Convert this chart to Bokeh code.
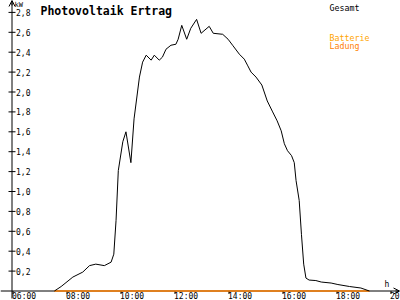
from bokeh.plotting import figure
from bokeh.models import (LinearAxis, FixedTicker, CustomJSTickFormatter, Label,
                          Arrow, OpenHead, Range1d, ColumnDataSource)
from bokeh.core.properties import value
from bokeh.embed import file_html
from bokeh.resources import INLINE

# ---- data ----
times = ["07:32", "07:47", "08:13", "08:35", "08:50", "09:04", "09:23", "09:38",
         "09:44", "09:49", "09:54", "10:04", "10:11", "10:22", "10:29", "10:41",
         "10:48", "10:56", "11:07", "11:14", "11:25", "11:32", "11:40", "11:51",
         "12:02", "12:07", "12:15", "12:26", "12:35", "12:48", "12:58", "13:16",
         "13:25", "13:46", "13:58", "14:08", "14:23", "14:34", "14:41", "14:49",
         "15:00", "15:13", "15:25", "15:37", "15:47", "15:56", "16:03", "16:10",
         "16:19", "16:25", "16:29", "16:36", "16:41", "16:46", "16:51", "16:58",
         "17:13", "17:25", "17:47", "18:02", "18:28", "18:53", "19:12"]
gesamt = [0.0, 0.045, 0.14, 0.19, 0.255, 0.27, 0.255, 0.29,
          0.37, 0.71, 1.21, 1.50, 1.60, 1.29, 1.73, 2.15,
          2.30, 2.37, 2.32, 2.37, 2.32, 2.35, 2.43, 2.47,
          2.48, 2.53, 2.67, 2.53, 2.64, 2.73, 2.59, 2.66,
          2.59, 2.58, 2.53, 2.47, 2.38, 2.33, 2.27, 2.20,
          2.15, 2.07, 1.91, 1.80, 1.71, 1.61, 1.48, 1.41,
          1.36, 1.29, 1.11, 0.91, 0.57, 0.27, 0.13, 0.11,
          0.105, 0.09, 0.08, 0.065, 0.045, 0.03, 0.0]
batt_times = ["07:32", "19:12"]
batt_ladung = [0.0, 0.0]
x_ticks = [6, 8, 10, 12, 14, 16, 18, 20]
x_tick_labels = ["06:00", "08:00", "10:00", "12:00", "14:00", "16:00", "18:00", "20:00"]
y_ticks = [0.2, 0.4, 0.6, 0.8, 1.0, 1.2, 1.4, 1.6, 1.8, 2.0, 2.2, 2.4, 2.6, 2.8]


def to_h(t):
    hh, mm = t.split(":")
    return int(hh) + int(mm) / 60.0


MONO = "DejaVu Sans Mono"
PX_PER_H = 27.0
PX_PER_KW = 99.5
X0 = 6 - 12.5 / PX_PER_H           # left edge of canvas in hours
X1 = X0 + 400 / PX_PER_H
Y1 = 290.5 / PX_PER_KW             # top edge in kW
Y0 = Y1 - 300 / PX_PER_KW
YAX = X0 + 11.5 / PX_PER_H         # position of the vertical axis

p = figure(width=400, height=300, output_backend="svg", toolbar_location=None,
           x_range=Range1d(X0, X1), y_range=Range1d(Y0, Y1),
           x_axis_type=None, y_axis_type=None, min_border=0,
           min_border_left=0, min_border_right=0, min_border_top=0, min_border_bottom=0)
p.outline_line_color = None
p.background_fill_color = "white"
p.border_fill_color = "white"

# y axis: labels only (to the right of the line)
ya = LinearAxis(fixed_location=YAX, ticker=FixedTicker(ticks=y_ticks),
                formatter=CustomJSTickFormatter(code="return tick.toFixed(1).replace('.', ',');"))
ya.major_tick_in = 0
ya.major_tick_out = 3
ya.minor_tick_in = 0
ya.minor_tick_out = 0
ya.major_label_standoff = 1
ya.major_label_text_font = MONO
ya.major_label_text_font_size = "8px"
ya.major_label_text_color = "black"
ya.axis_line_color = None
ya.major_tick_line_color = None
p.add_layout(ya, "right")

# crisp axis rules and ticks
p.segment(x0=[X0], y0=[0], x1=[X1 - 2 / PX_PER_H], y1=[0], line_color="black", line_width=1)
p.segment(x0=[YAX], y0=[Y0 + 2 / PX_PER_KW], x1=[YAX], y1=[Y1], line_color="black", line_width=1)
p.segment(x0=x_ticks, y0=[0] * len(x_ticks), x1=x_ticks, y1=[-3 / PX_PER_KW] * len(x_ticks),
          line_color="black", line_width=1)
p.segment(x0=[YAX - 3.5 / PX_PER_H] * len(y_ticks), y0=y_ticks,
          x1=[YAX + 3.5 / PX_PER_H] * len(y_ticks), y1=y_ticks,
          line_color="black", line_width=1)

# x tick labels, left aligned at the tick
p.text(x=x_ticks, y=[0] * len(x_ticks), text=x_tick_labels, x_offset=-1, y_offset=1,
       text_align="left", text_baseline="top", text_font=value(MONO),
       text_font_size="8px", text_color="black")

# series
src_b = ColumnDataSource(dict(x=[to_h(t) for t in batt_times], y=batt_ladung))
src_g = ColumnDataSource(dict(x=[to_h(t) for t in times], y=gesamt))
p.line("x", "y", source=src_b, line_color="#FF8000", line_width=1.5)
p.line("x", "y", source=src_g, line_color="black", line_width=1)

# axis arrows
p.add_layout(Arrow(end=OpenHead(size=6, line_color="black", line_width=1),
                   x_start=X1 - 5 / PX_PER_H, y_start=0, x_end=X1 - 1 / PX_PER_H, y_end=0,
                   line_color="black", line_width=1))
p.add_layout(Arrow(end=OpenHead(size=6, line_color="black", line_width=1),
                   x_start=YAX, y_start=Y1 - 5 / PX_PER_KW, x_end=YAX, y_end=Y1,
                   line_color="black", line_width=1))

# texts
p.add_layout(Label(x=40, y=297, x_units="screen", y_units="screen", text="Photovoltaik Ertrag",
                   text_font=MONO, text_font_style="bold", text_font_size="11.5px",
                   text_baseline="top", text_color="black"))
p.add_layout(Label(x=14, y=300, x_units="screen", y_units="screen", text="kW",
                   text_font=MONO, text_font_size="7px", text_baseline="top", text_color="black"))
p.add_layout(Label(x=384, y=21, x_units="screen", y_units="screen", text="h",
                   text_font=MONO, text_font_size="8px", text_baseline="top", text_color="black"))
p.add_layout(Label(x=329, y=298, x_units="screen", y_units="screen", text="Gesamt",
                   text_font=MONO, text_font_size="8.3px", text_baseline="top", text_color="black"))
p.add_layout(Label(x=329, y=268, x_units="screen", y_units="screen", text="Batterie",
                   text_font=MONO, text_font_size="8.3px", text_baseline="top", text_color="#FFA500"))
p.add_layout(Label(x=329, y=260, x_units="screen", y_units="screen", text="Ladung",
                   text_font=MONO, text_font_size="8.3px", text_baseline="top", text_color="#FF8000"))

open("out.html", "w").write(file_html(p, INLINE))
